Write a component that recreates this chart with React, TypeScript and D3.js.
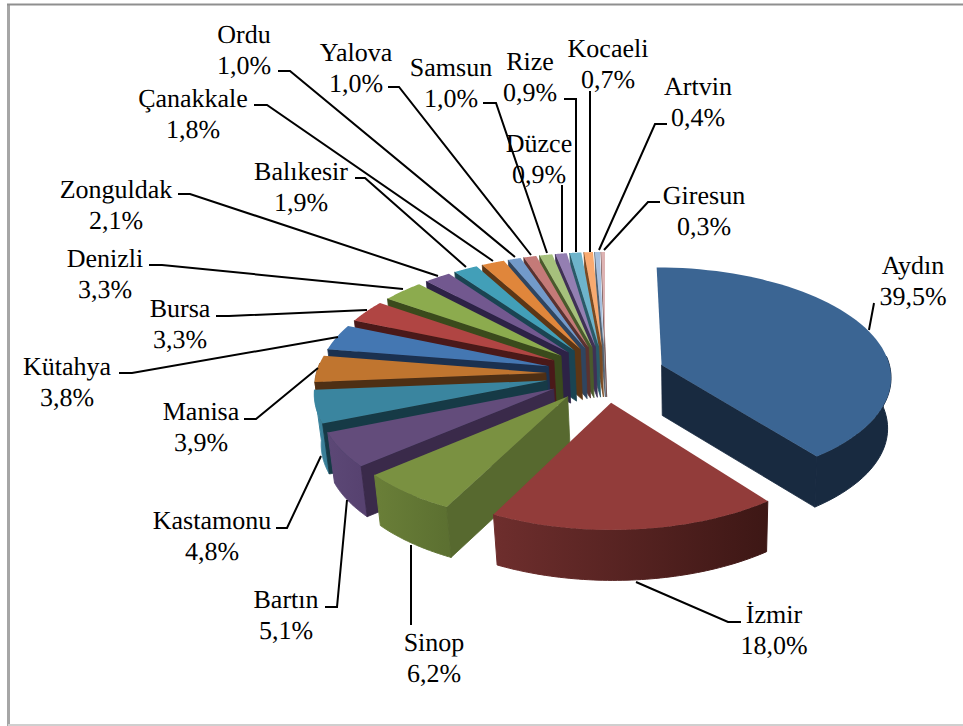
import React from "react";
import * as d3 from "d3";

// Province shares in percent, in the order the pie runs clockwise from 12 o'clock.
const provinces = ["Aydın","İzmir","Sinop","Bartın","Kastamonu","Manisa","Kütahya","Bursa","Denizli","Zonguldak","Balıkesir","Çanakkale","Ordu","Yalova","Samsun","Düzce","Rize","Kocaeli","Artvin","Giresun"];
const shares = [39.5,18.0,6.2,5.1,4.8,3.9,3.8,3.3,3.3,2.1,1.9,1.8,1.0,1.0,1.0,0.9,0.9,0.7,0.4,0.3];

// Top face, outer rim (left and right ends) and cut face colours per slice.
const topColors = ["#3b6593","#923c3a","#7a9141","#634c7b","#3a859f","#c0752f","#4477b2","#b04543","#8cab4e","#72588f","#429fb8","#e0863b","#729aca","#c47a78","#a6c17c","#947fb2","#6eb4cb","#f9aa70","#a7c0de","#ddb3b3"];
const rimLeft = ["#182a40","#6e2e2d","#6a7f38","#5c4876","#3a87a1","#8d5521","#2f5380","#7d302f","#62783a","#503e66","#2e7083","#a05f28","#4d6d90","#8a5553","#748856","#68597e","#4d7f90","#b0784e","#75879c","#9c7e7e"];
const rimRight = ["#182a40","#3d1715","#5c7031","#574270","#3a7f98","#8d5521","#2f5380","#7d302f","#62783a","#503e66","#2e7083","#a05f28","#4d6d90","#8a5553","#748856","#68597e","#4d7f90","#b0784e","#75879c","#9c7e7e"];
const cutColors = ["#182a40","#4a1a19","#57692f","#3a2a4a","#163a46","#4e2f14","#1b3150","#4a1919","#3a4a1c","#2d2246","#1a4452","#5c3615","#2f4560","#5a3230","#4a5a2c","#3f3155","#2a5a68","#7a4a22","#52606e","#6e5050"];

// Where each label sits and the elbow of its leader line.
const labelLayout: Record<string, { x: number; y: number; leader: [number, number][] }> = {
  "Aydın": { x: 913, y: 274, leader: [[874,303],[869,330]] },
  "İzmir": { x: 774, y: 623, leader: [[741,622],[728,622],[636,582]] },
  "Sinop": { x: 434, y: 651, leader: [[411,625],[411,545]] },
  "Bartın": { x: 286, y: 608, leader: [[325,607],[337,607],[347,500]] },
  "Kastamonu": { x: 212, y: 529, leader: [[276,528],[287,528],[321,456]] },
  "Manisa": { x: 201, y: 420, leader: [[244,419],[256,419],[318,368]] },
  "Kütahya": { x: 67, y: 375, leader: [[119,373],[132,373],[338,337]] },
  "Bursa": { x: 180, y: 317, leader: [[216,316],[229,316],[367,310]] },
  "Denizli": { x: 105, y: 267, leader: [[149,265],[162,265],[403,289]] },
  "Zonguldak": { x: 116, y: 198, leader: [[178,194],[190,194],[438,276]] },
  "Balıkesir": { x: 301, y: 180, leader: [[355,178],[365,178],[466,267]] },
  "Çanakkale": { x: 193, y: 107, leader: [[254,105],[267,105],[493,261]] },
  "Ordu": { x: 244, y: 43, leader: [[278,71],[290,71],[515,257]] },
  "Yalova": { x: 356, y: 61, leader: [[388,87],[399,87],[531,255]] },
  "Samsun": { x: 451, y: 76, leader: [[483,103],[496,103],[547,253]] },
  "Rize": { x: 530, y: 70, leader: [[564,99],[576,99],[576,252]] },
  "Düzce": { x: 539, y: 152, leader: [[562,185],[562,252]] },
  "Kocaeli": { x: 608, y: 57, leader: [[590,91],[590,252]] },
  "Artvin": { x: 698, y: 95, leader: [[667,124],[655,124],[599,250]] },
  "Giresun": { x: 704, y: 204, leader: [[660,202],[648,202],[604,250]] },
};

const WIDTH = 963;
const HEIGHT = 726;

// Perspective projection of the tilted pie plane.
const CENTER_X = 605.5;
const CENTER_Y = 374;
const RADIUS_X = 229.7;
const RADIUS_Y = 108.7;
const PERSPECTIVE = 0.097;
const EXPLODE = 0.26;
const THICKNESS = 50.5;
const VANISH_X = 700;
const VANISH_AMOUNT = 0.018;

const xScale = d3.scaleLinear().domain([-1, 1]).range([CENTER_X - RADIUS_X, CENTER_X + RADIUS_X]);
const yScale = d3.scaleLinear().domain([-1, 1]).range([CENTER_Y - RADIUS_Y, CENTER_Y + RADIUS_Y]);

type Pt = [number, number];

function project(u: number, v: number, lower: boolean): Pt {
  const w = 1 / (1 - PERSPECTIVE * v);
  let x = xScale(u * w);
  let y = yScale(v * w);
  if (lower) {
    x += (VANISH_X - x) * VANISH_AMOUNT;
    y += THICKNESS;
  }
  return [x, y];
}

const polygon = d3.line<Pt>().curve(d3.curveLinear);

const pieLayout = d3.pie<number>().sort(null).value((d) => d).startAngle(0).endAngle(2 * Math.PI);

function App() {
  const arcs = pieLayout(shares);

  const slices = arcs.map((a) => {
    const i = a.index;
    const mid = (a.startAngle + a.endAngle) / 2;
    const pt = (angle: number, r: number, lower: boolean): Pt =>
      project(
        EXPLODE * Math.sin(mid) + r * Math.sin(angle),
        -EXPLODE * Math.cos(mid) - r * Math.cos(angle),
        lower,
      );
    const steps = d3.range(0, 61).map((k) => a.startAngle + ((a.endAngle - a.startAngle) * k) / 60);
    const upperArc = steps.map((t) => pt(t, 1, false));
    const apex = pt(0, 0, false);
    const apexLow = pt(0, 0, true);

    const top = polygon([apex, ...upperArc])! + "Z";

    // The rim only faces the viewer across the front half of the pie.
    const rimSteps = steps.filter((t) => t > Math.PI * 0.47 && t < Math.PI * 1.53);
    const rimAngles = rimSteps.length > 1 ? [a.startAngle > Math.PI * 0.47 ? a.startAngle : rimSteps[0], ...rimSteps, a.endAngle < Math.PI * 1.53 ? a.endAngle : rimSteps[rimSteps.length - 1]] : [];
    const rim = rimAngles.length
      ? polygon([...rimAngles.map((t) => pt(t, 1, false)), ...rimAngles.slice().reverse().map((t) => pt(t, 1, true))])! + "Z"
      : null;
    const rimXs = rimAngles.map((t) => pt(t, 1, false)[0]);

    // Which cut faces turn towards the viewer depends on the bearing of each edge.
    const cutFaces: string[] = [];
    if (a.startAngle > Math.PI && a.startAngle < 2 * Math.PI) {
      cutFaces.push(polygon([apex, pt(a.startAngle, 1, false), pt(a.startAngle, 1, true), apexLow])! + "Z");
    }
    if (a.endAngle > 0 && a.endAngle < Math.PI) {
      cutFaces.push(polygon([apex, pt(a.endAngle, 1, false), pt(a.endAngle, 1, true), apexLow])! + "Z");
    }
    return {
      i,
      name: provinces[i],
      depth: -Math.cos(mid),
      top,
      rim,
      rimX0: rimXs.length ? (d3.min(rimXs) as number) : 0,
      rimX1: rimXs.length ? (d3.max(rimXs) as number) : 0,
      cutFaces,
    };
  });

  const drawOrder = slices.slice().sort((a, b) => a.depth - b.depth);
  const leaderLine = d3.line<[number, number]>();

  return (
    <svg
      width={WIDTH}
      height={HEIGHT}
      viewBox={`0 0 ${WIDTH} ${HEIGHT}`}
      style={{ position: "absolute", left: 0, top: 0, background: "#fff" }}
      fontFamily="'Liberation Serif', serif"
      textRendering="geometricPrecision"
    >
      <defs>
        {slices.map((s) => (
          <linearGradient key={s.i} id={`rim-${s.i}`} gradientUnits="userSpaceOnUse" x1={s.rimX0} x2={s.rimX1} y1={0} y2={0}>
            <stop offset="0" stopColor={rimLeft[s.i]} />
            <stop offset="1" stopColor={rimRight[s.i]} />
          </linearGradient>
        ))}
      </defs>

      {/* Chart frame: it runs off the right side of the page */}
      <line x1={8.5} x2={8.5} y1={4} y2={726} stroke="#a6a6a6" strokeWidth={3} />
      <line x1={7} x2={963} y1={4.5} y2={4.5} stroke="#8f8f8f" strokeWidth={2} />
      <line x1={8} x2={963} y1={725} y2={725} stroke="#cfcfcf" strokeWidth={2} />

      {drawOrder.map((s) => (
        <g key={s.i}>
          {s.rim && <path d={s.rim} fill={`url(#rim-${s.i})`} stroke={`url(#rim-${s.i})`} strokeWidth={1} />}
          {s.cutFaces.map((d, k) => (
            <path key={k} d={d} fill={cutColors[s.i]} stroke={cutColors[s.i]} strokeWidth={0.8} />
          ))}
          <path d={s.top} fill={topColors[s.i]} />
        </g>
      ))}

      {provinces.map((name) => (
        <path key={name} d={leaderLine(labelLayout[name].leader)!} fill="none" stroke="#000" strokeWidth={2} />
      ))}

      {provinces.map((name, i) => {
        const l = labelLayout[name];
        return (
          <text key={name} x={l.x} y={l.y} fontSize={26} textAnchor="middle" fill="#000">
            <tspan x={l.x}>{name}</tspan>
            <tspan x={l.x} dy={31}>{d3.format(".1f")(shares[i]).replace(".", ",")}%</tspan>
          </text>
        );
      })}
    </svg>
  );
}

export default App;
